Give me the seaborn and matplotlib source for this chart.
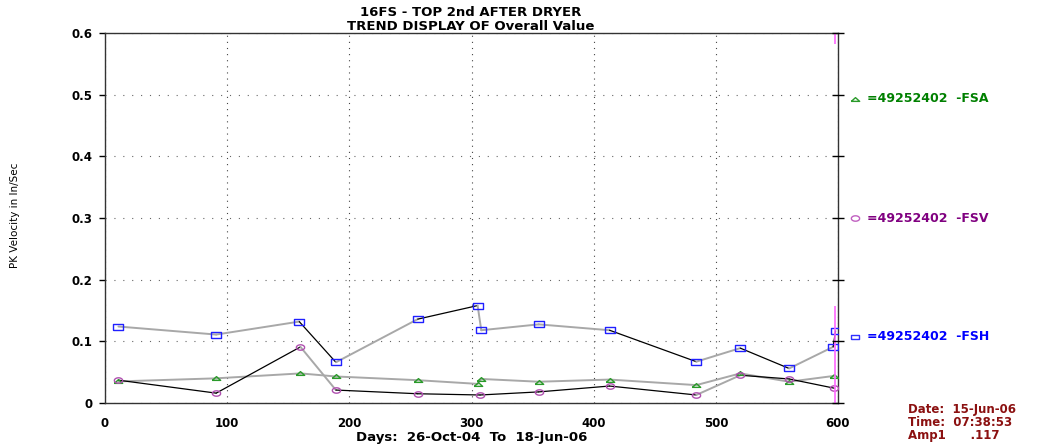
import matplotlib
matplotlib.use("Agg")
import matplotlib.pyplot as plt
import seaborn as sns
import pandas as pd
import numpy as np

# ---- data ----
fsh_days = [11, 91, 159, 189, 256, 305, 308, 355, 413, 484, 520, 560, 596, 598]
fsh_vals = [0.124, 0.111, 0.132, 0.066, 0.136, 0.158, 0.118, 0.1275, 0.118, 0.067, 0.089, 0.056, 0.091, 0.117]

fsv_days = [11, 91, 160, 189, 256, 307, 355, 413, 484, 520, 560, 597]
fsv_vals = [0.037, 0.016, 0.091, 0.021, 0.015, 0.013, 0.018, 0.0275, 0.013, 0.045, 0.039, 0.024]

fsa_days = [11, 91, 160, 189, 256, 305, 308, 355, 413, 484, 520, 560, 597]
fsa_vals = [0.035, 0.040, 0.048, 0.043, 0.037, 0.031, 0.039, 0.0345, 0.038, 0.029, 0.048, 0.0345, 0.044]

x_ticks = [0, 100, 200, 300, 400, 500, 600]
y_ticks = [0, 0.1, 0.2, 0.3, 0.4, 0.5, 0.6]
y_tick_labels = ["0", "0.1", "0.2", "0.3", "0.4", "0.5", "0.6"]

title_lines = ["16FS - TOP 2nd AFTER DRYER", "TREND DISPLAY OF Overall Value"]
x_label = "Days:  26-Oct-04  To  18-Jun-06"
y_label = "PK Velocity in In/Sec"
legend_labels = ["=49252402  -FSA", "=49252402  -FSV", "=49252402  -FSH"]
info_lines = ["Date:  15-Jun-06", "Time:  07:38:53", "Amp1      .117"]
cursor_day = 597.5

# segment shades (G = grey, K = black)
fsh_seg = "GGKGKGGGKGKGK"
fsv_seg = "KKGKKKKKGKK"
fsa_seg = "GGGGGGGGGGGG"

sns.set_theme(style="white")
plt.rcParams['font.family'] = ['DejaVu Sans']
plt.rcParams['text.color'] = 'black'

fig = plt.figure(figsize=(10.58, 4.45), dpi=100)
ax = fig.add_axes([105/1058, 42/445, (838-105)/1058, (403-33)/445])

shade = {"G": "#a8a8a8", "K": "#000000"}
width = {"G": 1.4, "K": 0.9}

# flattened marker shapes
rect_m = [(-1, -0.55), (1, -0.55), (1, 0.55), (-1, 0.55), (-1, -0.55)]
t = np.linspace(0, 2 * np.pi, 25)
ell_m = list(zip(np.cos(t), 0.65 * np.sin(t)))
tri_m = [(-1, -0.45), (1, -0.45), (0, 0.45), (-1, -0.45)]

def draw_series(days, vals, segs, mcolor, marker, ms):
    df = pd.DataFrame({"day": days, "val": vals})
    for i, s in enumerate(segs):
        sub = df.iloc[i:i + 2]
        sns.lineplot(data=sub, x="day", y="val", ax=ax, color=shade[s],
                     linewidth=width[s], sort=False, estimator=None)
    ax.plot(df["day"], df["val"], linestyle="none", marker=marker, ms=ms,
            mfc="none", mec=mcolor, mew=1.0, zorder=5)

draw_series(fsa_days, fsa_vals, fsa_seg, "#2a9a2a", tri_m, 6)
draw_series(fsv_days, fsv_vals, fsv_seg, "#b050b0", ell_m, 6)
draw_series(fsh_days, fsh_vals, fsh_seg, "#2020ff", rect_m, 7)

# cursor line
ax.vlines(cursor_day, -0.004, 0.157, color="#ff66ff", lw=1.2, zorder=6)
ax.vlines(cursor_day, 0.582, 0.6, color="#ff66ff", lw=1.2, zorder=6)

ax.set_xlim(0, 600)
ax.set_ylim(0, 0.6)
ax.set_xticks(x_ticks)
ax.set_xticklabels([str(v) for v in x_ticks])
ax.set_yticks(y_ticks)
ax.set_yticklabels(y_tick_labels)
for lab in ax.get_xticklabels() + ax.get_yticklabels():
    lab.set_fontweight("bold")
    lab.set_fontsize(8.5)
    lab.set_color("black")
ax.tick_params(axis="y", direction="out", length=4, width=1, color="black", pad=5, left=True)
ax.tick_params(axis="x", length=0, pad=10, bottom=True)
ax.set_xlabel("")
ax.set_ylabel("")

ax.xaxis.grid(True, color="#444444", linestyle=(0, (1, 4.5)), linewidth=0.8)
ax.yaxis.grid(True, color="#666666", linestyle=(0, (1, 7)), linewidth=0.8)
for sp in ax.spines.values():
    sp.set_visible(True)
    sp.set_color("#333333")
    sp.set_linewidth(1.0)

# right axis cross-ticks
axr = ax.twinx()
axr.set_ylim(0, 0.6)
axr.set_yticks(y_ticks)
axr.set_yticklabels([])
axr.tick_params(axis="y", direction="inout", length=8, width=1, color="black", right=True)
axr.grid(False)
for sp in axr.spines.values():
    sp.set_visible(False)

fig.text(471/1058, 1 - 12/445, title_lines[0], ha="center", va="center",
         fontsize=9.5, fontweight="bold")
fig.text(471/1058, 1 - 26/445, title_lines[1], ha="center", va="center",
         fontsize=9.5, fontweight="bold")
fig.text(472/1058, 1 - 437/445, x_label, ha="center", va="center",
         fontsize=9.5, fontweight="bold")
fig.text(15/1058, 1 - 215/445, y_label, ha="center", va="center",
         rotation=90, fontsize=7.5)

leg_y = [99, 218, 337]
leg_col = ["#008000", "#800080", "#0000ff"]
leg_mcol = ["#2a9a2a", "#c060c0", "#3030ff"]
leg_mark = [tri_m, ell_m, rect_m]
for yy, lab, c, mc, mk in zip(leg_y, legend_labels, leg_col, leg_mcol, leg_mark):
    fig.lines.append(plt.Line2D([855/1058], [1 - yy/445], transform=fig.transFigure,
                                marker=mk, ms=6, mfc="none", mec=mc, linestyle="none"))
    fig.text(867/1058, 1 - yy/445, lab, ha="left", va="center", color=c,
             fontsize=9, fontweight="bold")

for i, line in enumerate(info_lines):
    fig.text(908/1058, 1 - (410 + 13 * i)/445, line, ha="left", va="center",
             color="#8b1010", fontsize=8.5, fontweight="bold")

fig.savefig("out.png", dpi=100, facecolor="white")
